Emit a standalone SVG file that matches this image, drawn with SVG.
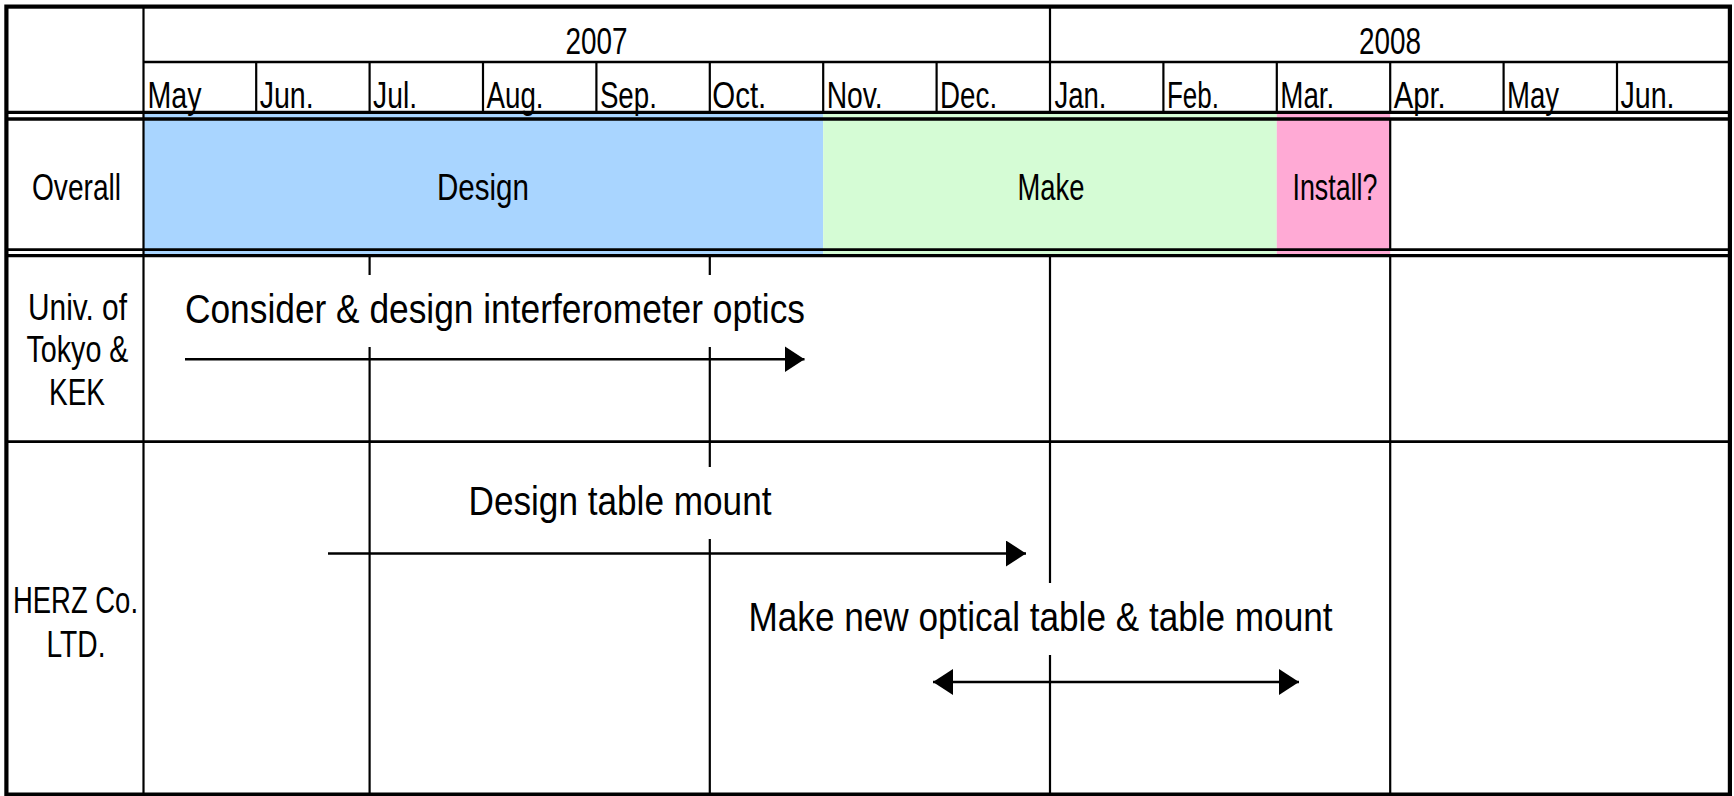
<svg xmlns="http://www.w3.org/2000/svg" width="1734" height="796" viewBox="0 0 1734 796">
  <style>
    text { font-family: "Liberation Sans", Arial, sans-serif; fill: #000; }
    .hd { font-size: 36px; }
    .lb { font-size: 37px; text-anchor: middle; }
    .tk { font-size: 41px; text-anchor: middle; }
    .g { stroke: #000; fill: none; }
    .thin { stroke-width: 2.2; }
    .mid { stroke-width: 2.7; }
    .thick { stroke-width: 3.3; }
    .mask { fill: #fff; stroke: none; }
    .arrow { stroke: #000; stroke-width: 2.6; fill: none; }
  </style>
  <defs>
    <marker id="head" viewBox="0 0 20 26" refX="20" refY="13" markerWidth="20" markerHeight="26" markerUnits="userSpaceOnUse" orient="auto-start-reverse">
      <path d="M0,0 L20,13 L0,26 Z" fill="#000"/>
    </marker>
  </defs>

  <rect x="0" y="0" width="1734" height="796" fill="#fff"/>

  <!-- phase bars of the Overall row (also fill the gaps of the double rules) -->
  <g id="bars">
    <rect id="bar-design" x="143.5" y="112.3" width="679.7" height="143.4" fill="#A9D5FF"/>
    <rect id="bar-make" x="823.2" y="112.3" width="453.6" height="143.4" fill="#D5FCD5"/>
    <rect id="bar-install" x="1276.8" y="112.3" width="113.4" height="143.4" fill="#FFAAD5"/>
  </g>

  <!-- table grid -->
  <g id="grid" class="g">
    <!-- header -->
    <line class="mid" x1="143.5" y1="62" x2="1730" y2="62"/>
    <line class="thin" x1="1050" y1="6" x2="1050" y2="112"/>
    <g class="thin">
      <line x1="256.2" y1="62" x2="256.2" y2="112"/>
      <line x1="369.6" y1="62" x2="369.6" y2="112"/>
      <line x1="483.0" y1="62" x2="483.0" y2="112"/>
      <line x1="596.4" y1="62" x2="596.4" y2="112"/>
      <line x1="709.8" y1="62" x2="709.8" y2="112"/>
      <line x1="823.2" y1="62" x2="823.2" y2="112"/>
      <line x1="936.6" y1="62" x2="936.6" y2="112"/>
      <line x1="1163.4" y1="62" x2="1163.4" y2="112"/>
      <line x1="1276.8" y1="62" x2="1276.8" y2="112"/>
      <line x1="1390.2" y1="62" x2="1390.2" y2="112"/>
      <line x1="1503.6" y1="62" x2="1503.6" y2="112"/>
      <line x1="1617.0" y1="62" x2="1617.0" y2="112"/>
    </g>
    <!-- double rules around the Overall row -->
    <line class="thick" x1="6" y1="112.3" x2="1730" y2="112.3"/>
    <line class="thick" x1="6" y1="119" x2="1730" y2="119"/>
    <line class="mid" x1="6" y1="249.7" x2="1730" y2="249.7"/>
    <line class="thick" x1="6" y1="255.7" x2="1730" y2="255.7"/>
    <line class="thin" x1="1390.2" y1="119" x2="1390.2" y2="249.7"/>
    <!-- first column -->
    <line class="thin" x1="143.5" y1="6" x2="143.5" y2="794"/>
    <!-- quarter lines in the lower rows -->
    <g class="thin">
      <line x1="369.6" y1="255.7" x2="369.6" y2="794"/>
      <line x1="709.8" y1="255.7" x2="709.8" y2="794"/>
      <line x1="1050" y1="255.7" x2="1050" y2="794"/>
      <line x1="1390.2" y1="255.7" x2="1390.2" y2="794"/>
    </g>
    <line class="mid" x1="6" y1="441.7" x2="1730" y2="441.7"/>
    <!-- outer frame -->
    <rect x="6.4" y="6.6" width="1723.5" height="788" stroke-width="4.2"/>
  </g>

  <!-- header labels -->
  <g id="years" class="hd">
    <text x="596.5" y="54" text-anchor="middle" textLength="62" lengthAdjust="spacingAndGlyphs">2007</text>
    <text x="1390" y="54" text-anchor="middle" textLength="62" lengthAdjust="spacingAndGlyphs">2008</text>
  </g>
  <g id="months" class="hd">
    <text x="147.5" y="108" textLength="54" lengthAdjust="spacingAndGlyphs">May</text>
    <text x="259.7" y="108" textLength="54" lengthAdjust="spacingAndGlyphs">Jun.</text>
    <text x="373.1" y="108" textLength="44" lengthAdjust="spacingAndGlyphs">Jul.</text>
    <text x="486.5" y="108" textLength="57" lengthAdjust="spacingAndGlyphs">Aug.</text>
    <text x="599.9" y="108" textLength="57" lengthAdjust="spacingAndGlyphs">Sep.</text>
    <text x="712.3" y="108" textLength="54" lengthAdjust="spacingAndGlyphs">Oct.</text>
    <text x="826.7" y="108" textLength="56" lengthAdjust="spacingAndGlyphs">Nov.</text>
    <text x="940.1" y="108" textLength="57" lengthAdjust="spacingAndGlyphs">Dec.</text>
    <text x="1054.5" y="108" textLength="52" lengthAdjust="spacingAndGlyphs">Jan.</text>
    <text x="1166.9" y="108" textLength="52" lengthAdjust="spacingAndGlyphs">Feb.</text>
    <text x="1280.3" y="108" textLength="54" lengthAdjust="spacingAndGlyphs">Mar.</text>
    <text x="1393.7" y="108" textLength="52" lengthAdjust="spacingAndGlyphs">Apr.</text>
    <text x="1507.1" y="108" textLength="52" lengthAdjust="spacingAndGlyphs">May</text>
    <text x="1620.5" y="108" textLength="54" lengthAdjust="spacingAndGlyphs">Jun.</text>
  </g>

  <!-- row: Overall -->
  <g id="row-overall" class="lb">
    <text x="76.5" y="199.5" textLength="89" lengthAdjust="spacingAndGlyphs">Overall</text>
    <text x="483" y="199.5" textLength="92" lengthAdjust="spacingAndGlyphs">Design</text>
    <text x="1051" y="199.5" textLength="67" lengthAdjust="spacingAndGlyphs">Make</text>
    <text x="1335" y="199.5" textLength="85" lengthAdjust="spacingAndGlyphs">Install?</text>
  </g>

  <!-- row: Univ. of Tokyo & KEK -->
  <g id="row-tokyo" class="lb">
    <text x="77.5" y="320" textLength="99" lengthAdjust="spacingAndGlyphs">Univ. of</text>
    <text x="77.5" y="362" textLength="102" lengthAdjust="spacingAndGlyphs">Tokyo &amp;</text>
    <text x="77" y="404.5" textLength="56" lengthAdjust="spacingAndGlyphs">KEK</text>
  </g>

  <!-- row: HERZ Co. LTD. -->
  <g id="row-herz" class="lb">
    <text x="75.5" y="612.5" textLength="125" lengthAdjust="spacingAndGlyphs">HERZ Co.</text>
    <text x="76" y="656.5" textLength="59" lengthAdjust="spacingAndGlyphs">LTD.</text>
  </g>

  <!-- task labels on white boxes that interrupt the grid -->
  <g id="task-optics">
    <rect class="mask" x="180" y="275" width="630" height="72"/>
    <text class="tk" x="495" y="323" textLength="620" lengthAdjust="spacingAndGlyphs">Consider &amp; design interferometer optics</text>
  </g>
  <g id="task-mount-design">
    <rect class="mask" x="462" y="467" width="316" height="72"/>
    <text class="tk" x="620" y="515" textLength="303" lengthAdjust="spacingAndGlyphs">Design table mount</text>
  </g>
  <g id="task-table-make">
    <rect class="mask" x="742" y="583" width="596" height="72"/>
    <text class="tk" x="1040.5" y="631" textLength="584" lengthAdjust="spacingAndGlyphs">Make new optical table &amp; table mount</text>
  </g>

  <!-- schedule arrows -->
  <g id="connectors">
    <line class="arrow" x1="185" y1="359.3" x2="804.5" y2="359.3" marker-end="url(#head)"/>
    <line class="arrow" x1="328" y1="553.5" x2="1026" y2="553.5" marker-end="url(#head)"/>
    <line class="arrow" x1="933" y1="682" x2="1299" y2="682" marker-start="url(#head)" marker-end="url(#head)"/>
  </g>
</svg>
